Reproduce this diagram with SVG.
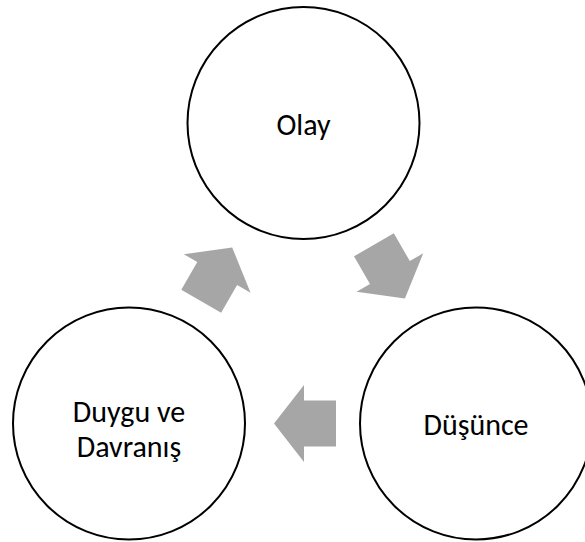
<svg xmlns="http://www.w3.org/2000/svg" width="585" height="542" viewBox="0 0 585 542">
<style>
.node circle{fill:#ffffff;stroke:#000000;stroke-width:2}
.node text{font-family:"Carlito","Lato","Liberation Sans",sans-serif;font-size:30px;fill:#000000;text-anchor:middle}
.arrow{fill:#A6A6A6}
</style>
<defs>
<path id="arr" d="M -31,-23 L 1,-23 L 1,-38.5 L 31,0 L 1,38.5 L 1,23 L -31,23 Z"/>
</defs>
<rect width="585" height="542" fill="#ffffff"/>
<g id="connectors">
<use href="#arr" class="arrow" transform="translate(389.4,271.7) rotate(60)"/>
<use href="#arr" class="arrow" transform="translate(305,423.5) rotate(180)"/>
<use href="#arr" class="arrow" transform="translate(216.7,274.3) rotate(-60)"/>
</g>
<g id="olay" class="node">
<circle cx="303.5" cy="123" r="116"/>
<text x="303.5" y="135">Olay</text>
</g>
<g id="dusunce" class="node">
<circle cx="476" cy="423.5" r="116"/>
<text x="476" y="435">Düşünce</text>
</g>
<g id="duygu" class="node">
<circle cx="129" cy="423.5" r="116"/>
<text x="129" y="422">Duygu ve</text>
<text x="129" y="457">Davranış</text>
</g>
</svg>
